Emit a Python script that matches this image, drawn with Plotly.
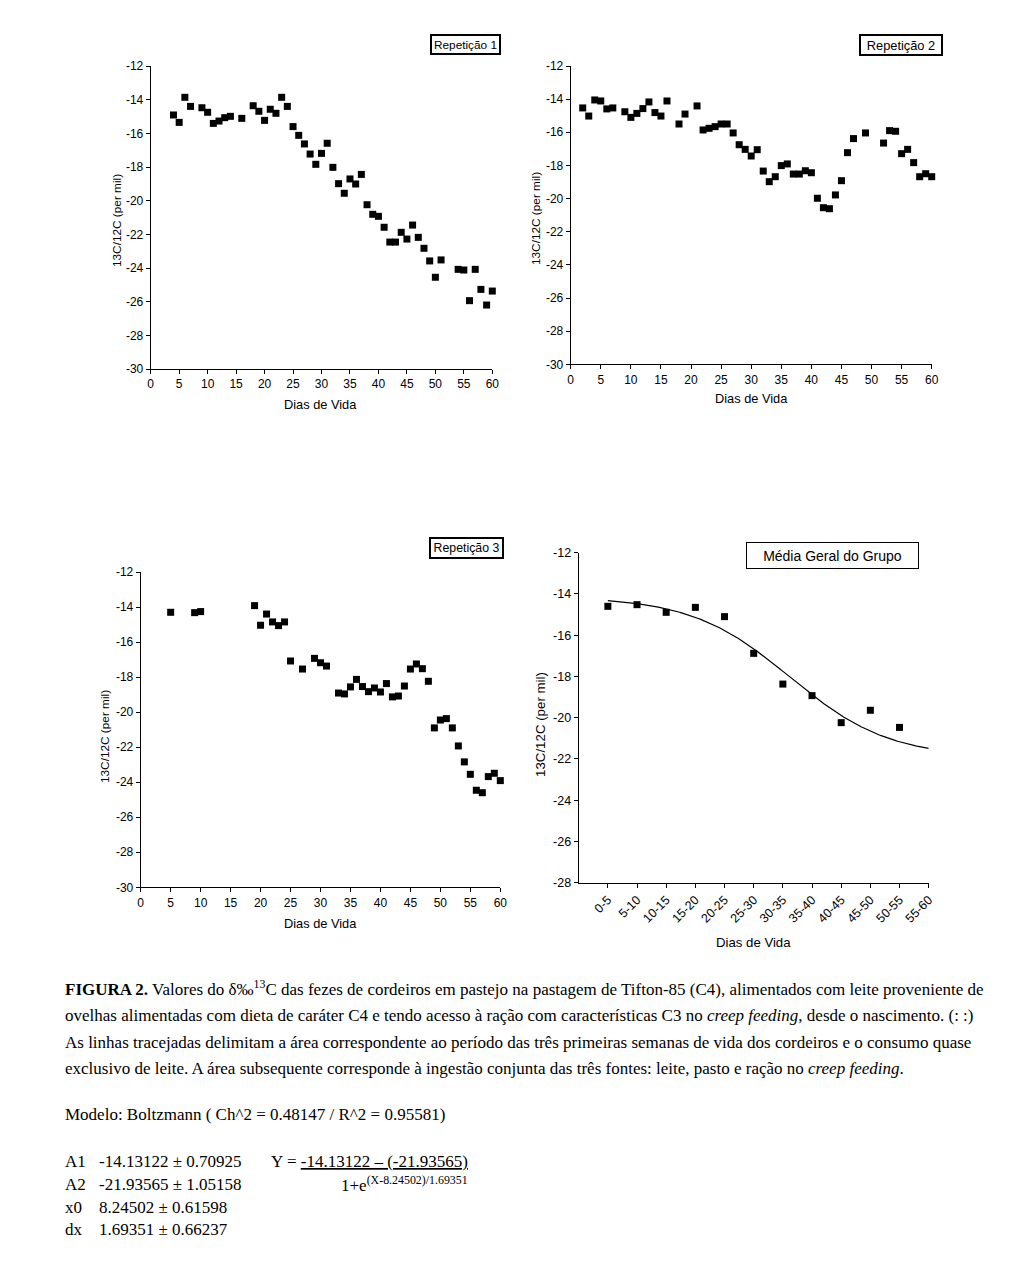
import numpy as np
import plotly.graph_objects as go

W, H = 1015, 1268

# ---------------- data ----------------
rep1_day = [4, 5, 6, 7, 9, 10, 11, 12, 13, 14, 16, 18, 19, 20, 21, 22, 23, 24, 25, 26, 27, 28, 29, 30,
            31, 32, 33, 34, 35, 36, 37, 38, 39, 40, 41, 42, 43, 44, 45, 46, 47, 48, 49, 50, 51, 54,
            55, 56, 57, 58, 59, 60]
rep1_val = [-14.91, -15.35, -13.86, -14.40, -14.48, -14.75, -15.41, -15.27, -15.07, -14.99, -15.11,
            -14.36, -14.69, -15.23, -14.57, -14.81, -13.86, -14.40, -15.60, -16.12, -16.63, -17.23,
            -17.84, -17.19, -16.59, -18.02, -18.99, -19.56, -18.71, -19.01, -18.44, -20.24, -20.81,
            -20.93, -21.58, -22.46, -22.46, -21.88, -22.28, -21.45, -22.18, -22.83, -23.58, -24.55,
            -23.52, -24.08, -24.12, -25.94, -24.08, -25.27, -26.20, -25.37]

rep2_day = [2, 3, 4, 5, 6, 7, 9, 10, 11, 12, 13, 14, 15, 16, 18, 19, 21, 22, 23, 24, 25, 26, 27, 28,
            29, 30, 31, 32, 33, 34, 35, 36, 37, 38, 39, 40, 41, 42, 43, 44, 45, 46, 47, 49, 52, 53,
            54, 55, 56, 57, 58, 59, 60]
rep2_val = [-14.53, -15.02, -14.05, -14.11, -14.59, -14.53, -14.76, -15.10, -14.86, -14.57, -14.17,
            -14.81, -15.02, -14.11, -15.50, -14.90, -14.41, -15.86, -15.76, -15.66, -15.50, -15.50,
            -16.04, -16.75, -17.03, -17.43, -17.05, -18.34, -18.98, -18.68, -18.01, -17.91, -18.52,
            -18.52, -18.32, -18.44, -19.98, -20.55, -20.61, -19.78, -18.92, -17.23, -16.38, -16.04,
            -16.65, -15.90, -15.94, -17.29, -17.03, -17.83, -18.68, -18.50, -18.68]

rep3_day = [5, 9, 10, 19, 20, 21, 22, 23, 24, 25, 27, 29, 30, 31, 33, 34, 35, 36, 37, 38, 39, 40, 41,
            42, 43, 44, 45, 46, 47, 48, 49, 50, 51, 52, 53, 54, 55, 56, 57, 58, 59, 60]
rep3_val = [-14.30, -14.32, -14.26, -13.92, -15.04, -14.40, -14.85, -15.06, -14.85, -17.08, -17.54,
            -16.93, -17.18, -17.37, -18.91, -18.96, -18.56, -18.13, -18.54, -18.83, -18.62, -18.85,
            -18.37, -19.13, -19.08, -18.51, -17.54, -17.25, -17.52, -18.24, -20.90, -20.45, -20.37,
            -20.90, -21.93, -22.84, -23.55, -24.46, -24.60, -23.68, -23.49, -23.91]

media_cat = ["0-5", "5-10", "10-15", "15-20", "20-25", "25-30", "30-35", "35-40", "40-45",
             "45-50", "50-55", "55-60"]
media_val = [-14.60, -14.52, -14.89, -14.65, -15.10, -16.88, -18.37, -18.93, -20.24, -19.64, -20.47]

x_ticks_day = [0, 5, 10, 15, 20, 25, 30, 35, 40, 45, 50, 55, 60]
y_ticks_rep = [-30, -28, -26, -24, -22, -20, -18, -16, -14, -12]
y_ticks_media = [-28, -26, -24, -22, -20, -18, -16, -14, -12]

# Boltzmann model parameters (from the caption)
A1, A2, X0, DX = -14.13122, -21.93565, 8.24502, 1.69351

# ---------------- figure ----------------
fig = go.Figure()
SANS = "Liberation Sans, Arial"
SERIF = "Liberation Serif, Times New Roman, serif"

def px_dom(a, b):
    return [a / W, b / W]

def py_dom(top, bottom):
    return [1 - bottom / H, 1 - top / H]

def lbl(v):
    return [str(t) for t in v]  # plain hyphen minus, as in the original

marker = dict(symbol="square", size=7, color="black")

fig.add_trace(go.Scatter(x=rep1_day, y=rep1_val, mode="markers", marker=marker,
                         xaxis="x", yaxis="y", cliponaxis=False, showlegend=False))
fig.add_trace(go.Scatter(x=rep2_day, y=rep2_val, mode="markers", marker=marker,
                         xaxis="x2", yaxis="y2", cliponaxis=False, showlegend=False))
fig.add_trace(go.Scatter(x=rep3_day, y=rep3_val, mode="markers", marker=marker,
                         xaxis="x3", yaxis="y3", cliponaxis=False, showlegend=False))

# panel 4: categories placed on the fit abscissa (first class at X=2)
cat_pos = list(range(2, 2 + len(media_cat)))
fig.add_trace(go.Scatter(x=cat_pos[:len(media_val)], y=media_val, mode="markers", marker=marker,
                         xaxis="x4", yaxis="y4", cliponaxis=False, showlegend=False))
xs = np.linspace(cat_pos[0], cat_pos[-1], 300)
ys = A2 + (A1 - A2) / (1 + np.exp((xs - X0) / DX))
fig.add_trace(go.Scatter(x=xs, y=ys, mode="lines", line=dict(color="black", width=1.2),
                         xaxis="x4", yaxis="y4", cliponaxis=False, showlegend=False))

def ax_common(size=12):
    return dict(showline=True, linecolor="black", linewidth=1, ticks="outside", ticklen=4,
                tickwidth=1, tickcolor="black", showgrid=False, zeroline=False,
                automargin=False, tickmode="array",
                tickfont=dict(family=SANS, size=size, color="black"), fixedrange=True)

def xday(dom, anchor):
    return dict(ax_common(), domain=dom, range=[0, 60], tickvals=x_ticks_day,
                ticktext=lbl(x_ticks_day), anchor=anchor)

def yrep(dom, anchor):
    return dict(ax_common(), domain=dom, range=[-30, -12], tickvals=y_ticks_rep,
                ticktext=lbl(y_ticks_rep), anchor=anchor)

lay = dict(width=W, height=H, margin=dict(l=0, r=0, t=0, b=0, autoexpand=False),
           paper_bgcolor="white", plot_bgcolor="white")
lay["xaxis"] = xday(px_dom(150.7, 492.3), "y")
lay["yaxis"] = yrep(py_dom(66, 369), "x")
lay["xaxis2"] = xday(px_dom(570.7, 931.7), "y2")
lay["yaxis2"] = yrep(py_dom(66, 364.3), "x2")
lay["xaxis3"] = xday(px_dom(140.7, 500.3), "y3")
lay["yaxis3"] = yrep(py_dom(572, 887.3), "x3")
lay["xaxis4"] = dict(ax_common(12.5), domain=px_dom(578.7, 928.7), range=[1, 13],
                     tickvals=cat_pos, ticktext=media_cat, tickangle=-45, anchor="y4")
lay["yaxis4"] = dict(ax_common(12.5), domain=py_dom(552.7, 882.7), range=[-28, -12],
                     tickvals=y_ticks_media, ticktext=lbl(y_ticks_media), anchor="x4")
fig.update_layout(**lay)

ann = []

def txt(x, y, text, size, family, xanchor="center", yanchor="middle", angle=0, **kw):
    ann.append(dict(xref="paper", yref="paper", x=x / W, y=1 - y / H, text=text, showarrow=False,
                    xanchor=xanchor, yanchor=yanchor, textangle=angle,
                    font=dict(family=family, size=size, color="black"), **kw))

def box(cx, cy, text, w, h, size, bw):
    ann.append(dict(xref="paper", yref="paper", x=cx / W, y=1 - cy / H, text=text,
                    showarrow=False, xanchor="center", yanchor="middle",
                    width=w, height=h, borderpad=0, borderwidth=bw, bordercolor="black",
                    bgcolor="white", font=dict(family=SANS, size=size, color="black")))

# titles in boxes
box(465.8, 44.5, "Repetição 1", 67, 17, 11.8, 2)
box(900.5, 45, "Repetição 2", 80, 18, 12.8, 2)
box(466.7, 548.3, "Repetição 3", 71, 18, 12.3, 2)
box(832, 556, "Média Geral do Grupo", 171, 25, 14, 1)

# axis titles
txt(320, 404, "Dias de Vida", 12.8, SANS)
txt(751, 398, "Dias de Vida", 12.8, SANS)
txt(320, 923, "Dias de Vida", 12.8, SANS)
txt(753, 942, "Dias de Vida", 13.2, SANS)
txt(117, 221, "13C/12C (per mil)", 11.8, SANS, angle=-90)
txt(536, 219, "13C/12C (per mil)", 11.8, SANS, angle=-90)
txt(105, 737, "13C/12C (per mil)", 11.8, SANS, angle=-90)
txt(540, 725, "13C/12C (per mil)", 13.3, SANS, angle=-90)

# caption
cap = [
    "<b>FIGURA 2.</b> Valores do δ‰<sup>13</sup>C das fezes de cordeiros em pastejo na pastagem de Tifton-85 (C4), alimentados com leite proveniente de",
    "ovelhas alimentadas com dieta de caráter C4 e tendo acesso à ração com características C3 no <i>creep feeding</i>, desde o nascimento. (: :)",
    "As linhas tracejadas delimitam a área correspondente ao período das três primeiras semanas de vida dos cordeiros e o consumo quase",
    "exclusivo de leite. A área subsequente corresponde à ingestão conjunta das três fontes: leite, pasto e ração no <i>creep feeding</i>.",
]
cap_y = [988, 1015, 1042, 1068]
for t, y in zip(cap, cap_y):
    txt(63, y, t, 17, SERIF, xanchor="left")

txt(63, 1114, "Modelo: Boltzmann ( Ch^2 = 0.48147 / R^2 = 0.95581)", 17, SERIF, xanchor="left")
params = [("A1", "-14.13122 ± 0.70925"), ("A2", "-21.93565 ± 1.05158"),
          ("x0", "8.24502 ± 0.61598"), ("dx", "1.69351 ± 0.66237")]
py = [1161, 1184, 1207, 1229]
for (n, v), y in zip(params, py):
    txt(63, y, n, 17, SERIF, xanchor="left")
    txt(97, y, v, 17, SERIF, xanchor="left")
txt(269, 1161, "Y = <u>-14.13122 – (-21.93565)</u>", 17, SERIF, xanchor="left")
txt(339, 1184, "1+e<sup>(X-8.24502)/1.69351</sup>", 17, SERIF, xanchor="left")

fig.update_layout(annotations=ann)
fig.write_html("out.html", config={"displayModeBar": False},
               post_script="document.body.style.margin='0';document.body.style.overflow='hidden';")
